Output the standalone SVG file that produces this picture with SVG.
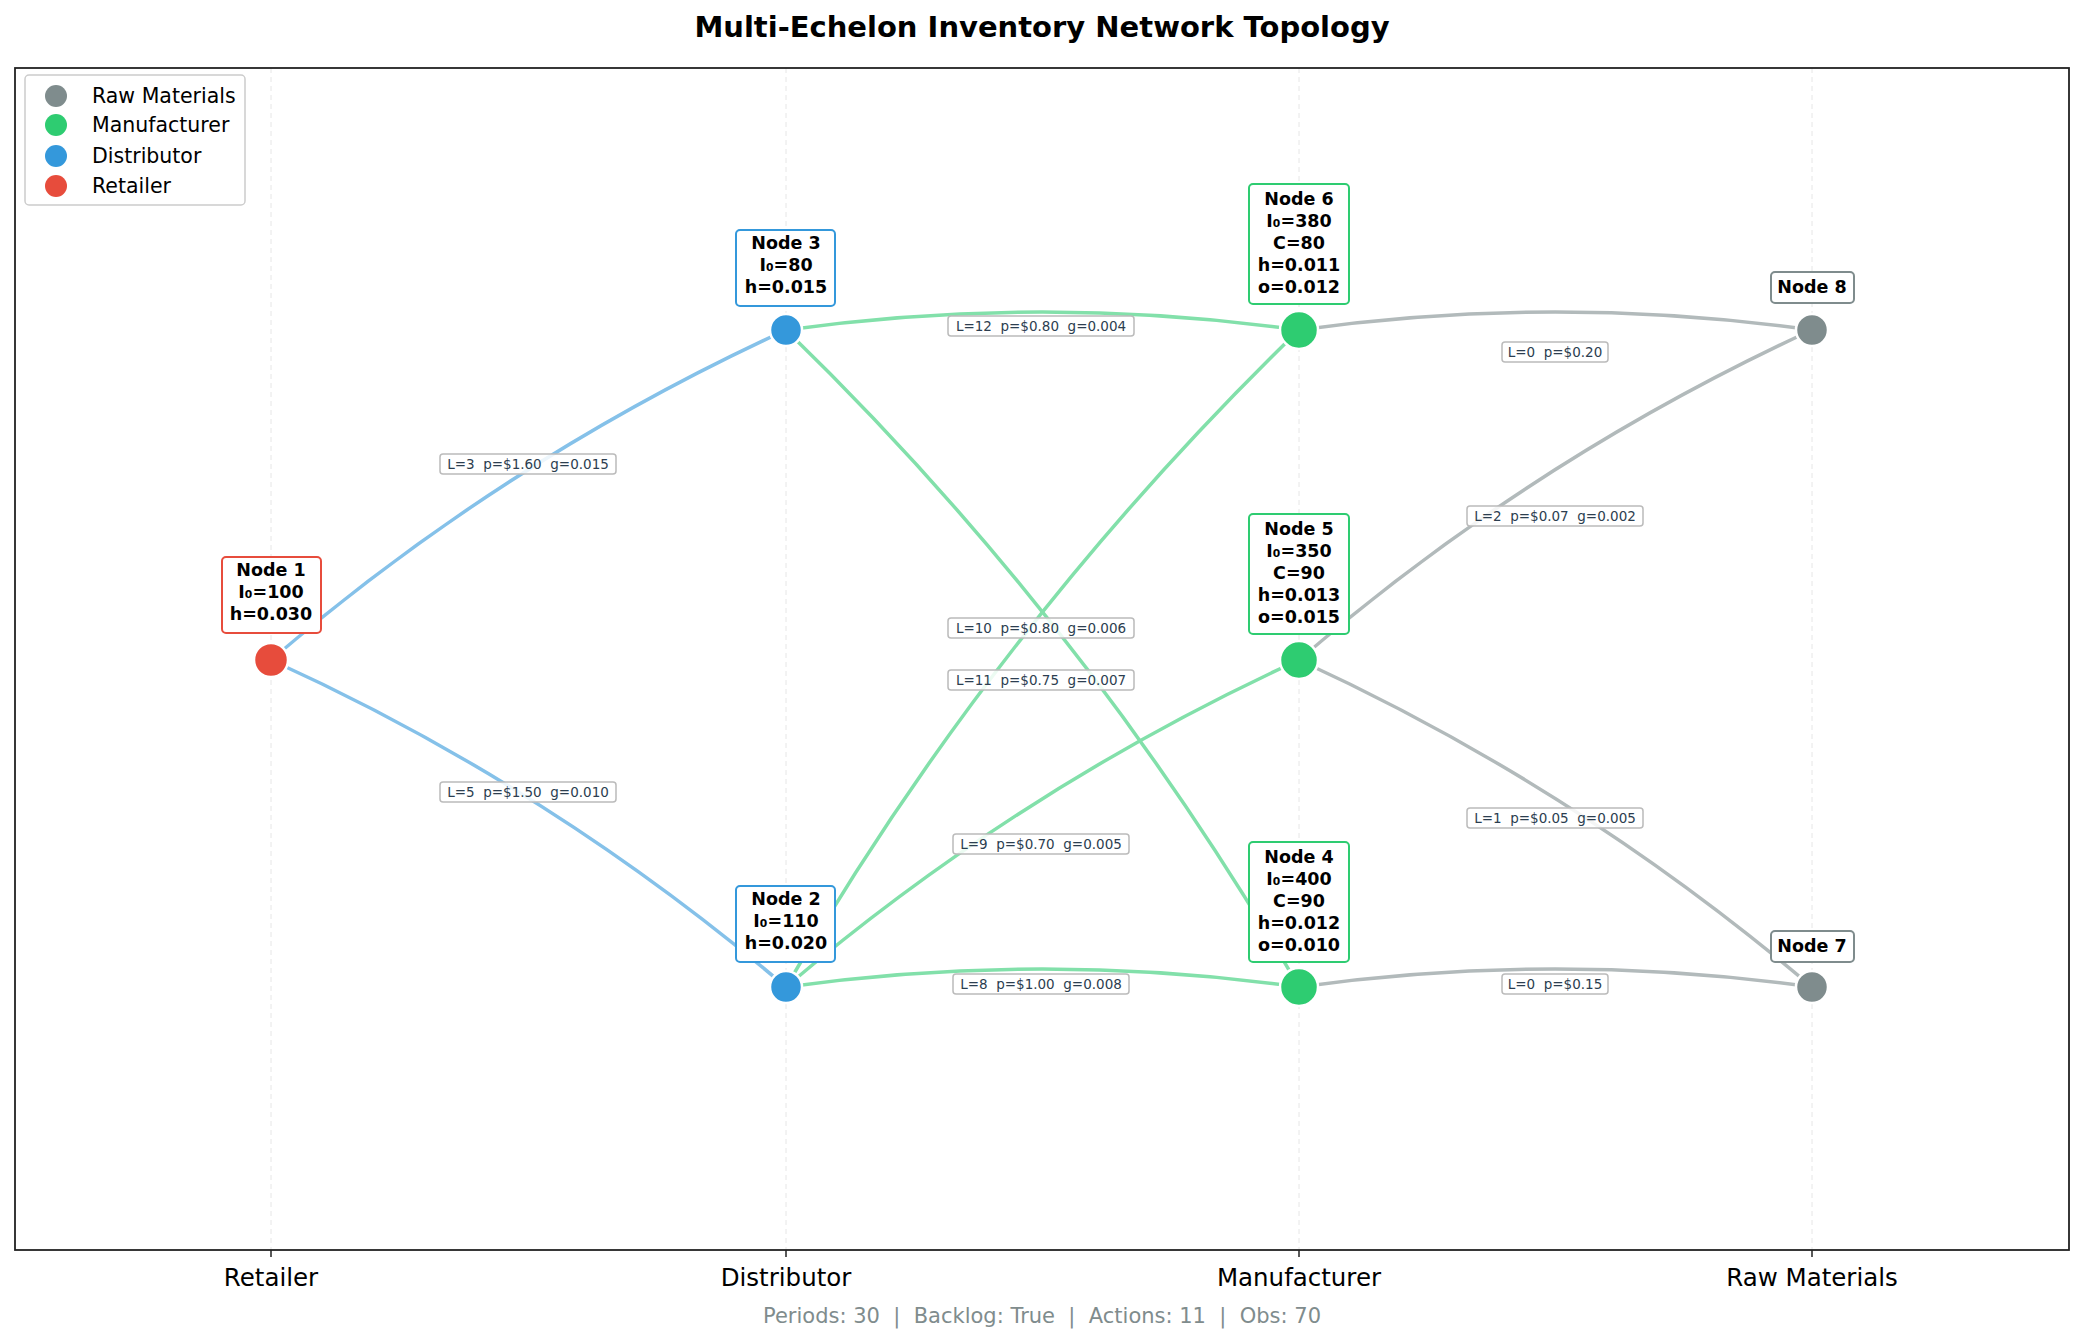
<svg xmlns="http://www.w3.org/2000/svg" width="2085" height="1343" viewBox="0 0 2085 1343" xml:space="preserve">
<style>
text{font-family:"DejaVu Sans","Liberation Sans",sans-serif;white-space:pre}
.title{font-size:29px;font-weight:bold;text-anchor:middle}
.tick{font-size:24.5px;text-anchor:middle}
.foot{font-size:21px;fill:#7f8c8d;text-anchor:middle}
.leg{font-size:20.5px}
.grid{stroke:#e6e6e6;stroke-width:1;stroke-dasharray:5,4}
.nl{font-size:17.5px;font-weight:bold;text-anchor:middle}
.nb{fill:#fff;stroke-width:2}
.el{font-size:13.5px;fill:#2c3e50;text-anchor:middle}
.eb{fill:#fff;fill-opacity:0.85;stroke:#bbbbbb;stroke-width:1.5}
.e{fill:none;stroke-width:3.5;stroke-linecap:round}
.eb1{stroke:#85c1e9}.eg{stroke:#82e0aa}.er{stroke:#b2babb}
.node{stroke:#fff;stroke-width:2.5}
</style>
<rect width="2085" height="1343" fill="#fff"/>
<text class="title" x="1042" y="37">Multi-Echelon Inventory Network Topology</text>
<g id="axes">
<line class="grid" x1="271" y1="68" x2="271" y2="1250"/>
<line class="grid" x1="786" y1="68" x2="786" y2="1250"/>
<line class="grid" x1="1299" y1="68" x2="1299" y2="1250"/>
<line class="grid" x1="1812" y1="68" x2="1812" y2="1250"/>
<rect x="15" y="68" width="2054" height="1182" fill="none" stroke="#222" stroke-width="1.8"/>
<g stroke="#222" stroke-width="1.5"><line x1="271" y1="1250" x2="271" y2="1257"/><line x1="786" y1="1250" x2="786" y2="1257"/><line x1="1299" y1="1250" x2="1299" y2="1257"/><line x1="1812" y1="1250" x2="1812" y2="1257"/></g>
<text class="tick" x="271" y="1286">Retailer</text>
<text class="tick" x="786" y="1286">Distributor</text>
<text class="tick" x="1299" y="1286">Manufacturer</text>
<text class="tick" x="1812" y="1286">Raw Materials</text>
<text class="foot" x="1042" y="1323">Periods: 30  |  Backlog: True  |  Actions: 11  |  Obs: 70</text>
</g>
<g id="legend">
<rect x="25" y="75" width="220" height="130" rx="4" fill="#fff" stroke="#cccccc" stroke-width="1.5"/>
<circle cx="56" cy="96" r="11" fill="#7f8c8d"/><text class="leg" x="92" y="103">Raw Materials</text>
<circle cx="56" cy="125" r="11" fill="#2ecc71"/><text class="leg" x="92" y="132">Manufacturer</text>
<circle cx="56" cy="156" r="11" fill="#3498db"/><text class="leg" x="92" y="163">Distributor</text>
<circle cx="56" cy="186" r="11" fill="#e74c3c"/><text class="leg" x="92" y="193">Retailer</text>
</g>
<g id="connectors">
<path class="e eb1" d="M271,660 Q505,459 786,330"/>
<path class="e eb1" d="M271,660 Q551,787 786,987"/>
<path class="e eg" d="M786,330 Q1042,294 1299,330"/>
<path class="e eg" d="M786,330 Q1088,623 1299,987"/>
<path class="e eg" d="M786,987 Q997,623 1299,330"/>
<path class="e eg" d="M786,987 Q1020,788 1299,660"/>
<path class="e eg" d="M786,987 Q1042,951 1299,987"/>
<path class="e er" d="M1299,330 Q1555,294 1812,330"/>
<path class="e er" d="M1299,660 Q1532,459 1812,330"/>
<path class="e er" d="M1299,660 Q1578,788 1812,987"/>
<path class="e er" d="M1299,987 Q1555,951 1812,987"/>
<g>
<rect class="eb" x="440" y="454" width="176" height="20" rx="3"/><text class="el" x="528" y="469">L=3  p=$1.60  g=0.015</text>
<rect class="eb" x="440" y="782" width="176" height="20" rx="3"/><text class="el" x="528" y="797">L=5  p=$1.50  g=0.010</text>
<rect class="eb" x="948" y="316" width="186" height="20" rx="3"/><text class="el" x="1041" y="331">L=12  p=$0.80  g=0.004</text>
<rect class="eb" x="948" y="618" width="186" height="20" rx="3"/><text class="el" x="1041" y="633">L=10  p=$0.80  g=0.006</text>
<rect class="eb" x="948" y="670" width="186" height="20" rx="3"/><text class="el" x="1041" y="685">L=11  p=$0.75  g=0.007</text>
<rect class="eb" x="953" y="834" width="176" height="20" rx="3"/><text class="el" x="1041" y="849">L=9  p=$0.70  g=0.005</text>
<rect class="eb" x="953" y="974" width="176" height="20" rx="3"/><text class="el" x="1041" y="989">L=8  p=$1.00  g=0.008</text>
<rect class="eb" x="1502" y="342" width="106" height="20" rx="3"/><text class="el" x="1555" y="357">L=0  p=$0.20</text>
<rect class="eb" x="1467" y="506" width="176" height="20" rx="3"/><text class="el" x="1555" y="521">L=2  p=$0.07  g=0.002</text>
<rect class="eb" x="1467" y="808" width="176" height="20" rx="3"/><text class="el" x="1555" y="823">L=1  p=$0.05  g=0.005</text>
<rect class="eb" x="1502" y="974" width="106" height="20" rx="3"/><text class="el" x="1555" y="989">L=0  p=$0.15</text>
</g>
</g>
<g id="node1">
<circle class="node" cx="271" cy="660" r="17" fill="#e74c3c"/>
<rect class="nb" x="222" y="557" width="99" height="76" rx="4" stroke="#e74c3c"/>
<text class="nl" x="271" y="576">Node 1</text><text class="nl" x="271" y="598">I₀=100</text><text class="nl" x="271" y="620">h=0.030</text>
</g>
<g id="node3">
<circle class="node" cx="786" cy="330" r="16" fill="#3498db"/>
<rect class="nb" x="736" y="230" width="99" height="76" rx="4" stroke="#3498db"/>
<text class="nl" x="786" y="249">Node 3</text><text class="nl" x="786" y="271">I₀=80</text><text class="nl" x="786" y="293">h=0.015</text>
</g>
<g id="node2">
<circle class="node" cx="786" cy="987" r="16" fill="#3498db"/>
<rect class="nb" x="736" y="886" width="99" height="76" rx="4" stroke="#3498db"/>
<text class="nl" x="786" y="905">Node 2</text><text class="nl" x="786" y="927">I₀=110</text><text class="nl" x="786" y="949">h=0.020</text>
</g>
<g id="node6">
<circle class="node" cx="1299" cy="330" r="19" fill="#2ecc71"/>
<rect class="nb" x="1249" y="184" width="100" height="120" rx="4" stroke="#2ecc71"/>
<text class="nl" x="1299" y="205">Node 6</text><text class="nl" x="1299" y="227">I₀=380</text><text class="nl" x="1299" y="249">C=80</text><text class="nl" x="1299" y="271">h=0.011</text><text class="nl" x="1299" y="293">o=0.012</text>
</g>
<g id="node5">
<circle class="node" cx="1299" cy="660" r="19" fill="#2ecc71"/>
<rect class="nb" x="1249" y="514" width="100" height="120" rx="4" stroke="#2ecc71"/>
<text class="nl" x="1299" y="535">Node 5</text><text class="nl" x="1299" y="557">I₀=350</text><text class="nl" x="1299" y="579">C=90</text><text class="nl" x="1299" y="601">h=0.013</text><text class="nl" x="1299" y="623">o=0.015</text>
</g>
<g id="node4">
<circle class="node" cx="1299" cy="987" r="19" fill="#2ecc71"/>
<rect class="nb" x="1249" y="842" width="100" height="120" rx="4" stroke="#2ecc71"/>
<text class="nl" x="1299" y="863">Node 4</text><text class="nl" x="1299" y="885">I₀=400</text><text class="nl" x="1299" y="907">C=90</text><text class="nl" x="1299" y="929">h=0.012</text><text class="nl" x="1299" y="951">o=0.010</text>
</g>
<g id="node8">
<circle class="node" cx="1812" cy="330" r="16" fill="#7f8c8d"/>
<rect class="nb" x="1771" y="272" width="83" height="31" rx="4" stroke="#7f8c8d"/>
<text class="nl" x="1812" y="293">Node 8</text>
</g>
<g id="node7">
<circle class="node" cx="1812" cy="987" r="16" fill="#7f8c8d"/>
<rect class="nb" x="1771" y="931" width="83" height="31" rx="4" stroke="#7f8c8d"/>
<text class="nl" x="1812" y="952">Node 7</text>
</g>
</svg>
